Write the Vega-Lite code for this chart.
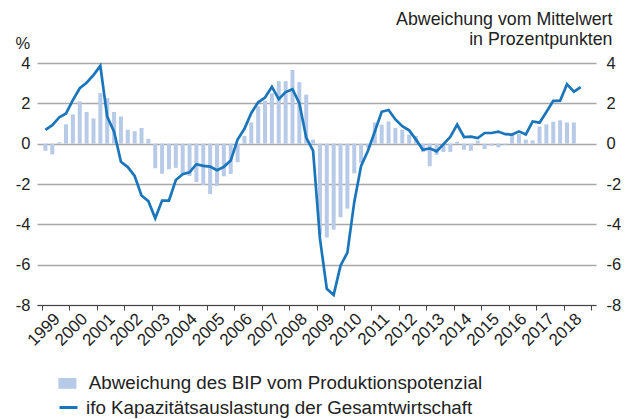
{
  "$schema": "https://vega.github.io/schema/vega-lite/v6.json",
  "width": 559,
  "height": 242,
  "autosize": {"type": "none"},
  "padding": {"left": 37, "top": 63, "right": 35, "bottom": 114},
  "config": {
    "view": {"stroke": null},
    "font": "Liberation Sans",
    "axis": {"labelFont": "Liberation Sans", "labelFontSize": 16, "labelColor": "#222", "titleFont": "Liberation Sans", "titleColor": "#222", "titleFontWeight": "normal"},
    "legend": {"labelFont": "Liberation Sans", "labelFontSize": 18.8, "labelColor": "#222", "labelLimit": 0}
  },
  "data": {
    "values": [
      {"t": 1999.125, "bip": -0.35, "ifo": 0.68},
      {"t": 1999.375, "bip": -0.53, "ifo": 0.92},
      {"t": 1999.625, "bip": 0.07, "ifo": 1.3},
      {"t": 1999.875, "bip": 0.96, "ifo": 1.5},
      {"t": 2000.125, "bip": 1.45, "ifo": 2.16},
      {"t": 2000.375, "bip": 2.1, "ifo": 2.75},
      {"t": 2000.625, "bip": 1.57, "ifo": 3.02},
      {"t": 2000.875, "bip": 1.25, "ifo": 3.4},
      {"t": 2001.125, "bip": 2.51, "ifo": 3.86},
      {"t": 2001.375, "bip": 2.26, "ifo": 1.34},
      {"t": 2001.625, "bip": 1.57, "ifo": 0.6},
      {"t": 2001.875, "bip": 1.35, "ifo": -0.9},
      {"t": 2002.125, "bip": 0.69, "ifo": -1.16},
      {"t": 2002.375, "bip": 0.62, "ifo": -1.6},
      {"t": 2002.625, "bip": 0.78, "ifo": -2.57},
      {"t": 2002.875, "bip": 0.24, "ifo": -2.85},
      {"t": 2003.125, "bip": -1.22, "ifo": -3.7},
      {"t": 2003.375, "bip": -1.49, "ifo": -2.82},
      {"t": 2003.625, "bip": -1.27, "ifo": -2.82},
      {"t": 2003.875, "bip": -1.2, "ifo": -1.8},
      {"t": 2004.125, "bip": -1.5, "ifo": -1.52},
      {"t": 2004.375, "bip": -1.6, "ifo": -1.42},
      {"t": 2004.625, "bip": -1.9, "ifo": -1.02},
      {"t": 2004.875, "bip": -2.05, "ifo": -1.1},
      {"t": 2005.125, "bip": -2.5, "ifo": -1.14},
      {"t": 2005.375, "bip": -2.1, "ifo": -1.32},
      {"t": 2005.625, "bip": -1.62, "ifo": -1.15},
      {"t": 2005.875, "bip": -1.5, "ifo": -0.84},
      {"t": 2006.125, "bip": -0.92, "ifo": 0.2},
      {"t": 2006.375, "bip": 0.38, "ifo": 0.74},
      {"t": 2006.625, "bip": 1.05, "ifo": 1.52},
      {"t": 2006.875, "bip": 1.85, "ifo": 2.05},
      {"t": 2007.125, "bip": 2.13, "ifo": 2.29},
      {"t": 2007.375, "bip": 2.5, "ifo": 2.82},
      {"t": 2007.625, "bip": 3.1, "ifo": 2.21},
      {"t": 2007.875, "bip": 3.1, "ifo": 2.56},
      {"t": 2008.125, "bip": 3.65, "ifo": 2.7},
      {"t": 2008.375, "bip": 3.05, "ifo": 2.01},
      {"t": 2008.625, "bip": 2.43, "ifo": 0.3},
      {"t": 2008.875, "bip": 0.2, "ifo": -0.35},
      {"t": 2009.125, "bip": -4.5, "ifo": -4.7},
      {"t": 2009.375, "bip": -4.65, "ifo": -7.2},
      {"t": 2009.625, "bip": -4.26, "ifo": -7.5},
      {"t": 2009.875, "bip": -3.65, "ifo": -6.05},
      {"t": 2010.125, "bip": -3.22, "ifo": -5.4},
      {"t": 2010.375, "bip": -1.47, "ifo": -2.9},
      {"t": 2010.625, "bip": -0.96, "ifo": -1.1},
      {"t": 2010.875, "bip": -0.2, "ifo": -0.35},
      {"t": 2011.125, "bip": 1.05, "ifo": 0.6},
      {"t": 2011.375, "bip": 0.94, "ifo": 1.58},
      {"t": 2011.625, "bip": 1.1, "ifo": 1.67},
      {"t": 2011.875, "bip": 0.78, "ifo": 1.2},
      {"t": 2012.125, "bip": 0.69, "ifo": 0.87},
      {"t": 2012.375, "bip": 0.45, "ifo": 0.66},
      {"t": 2012.625, "bip": 0.38, "ifo": 0.2},
      {"t": 2012.875, "bip": -0.42, "ifo": -0.3},
      {"t": 2013.125, "bip": -1.12, "ifo": -0.23},
      {"t": 2013.375, "bip": -0.55, "ifo": -0.38},
      {"t": 2013.625, "bip": -0.41, "ifo": -0.03},
      {"t": 2013.875, "bip": -0.41, "ifo": 0.34},
      {"t": 2014.125, "bip": 0.1, "ifo": 0.95},
      {"t": 2014.375, "bip": -0.3, "ifo": 0.33},
      {"t": 2014.625, "bip": -0.35, "ifo": 0.35},
      {"t": 2014.875, "bip": 0.15, "ifo": 0.28},
      {"t": 2015.125, "bip": -0.26, "ifo": 0.53},
      {"t": 2015.375, "bip": -0.1, "ifo": 0.53},
      {"t": 2015.625, "bip": -0.18, "ifo": 0.6},
      {"t": 2015.875, "bip": -0.05, "ifo": 0.47},
      {"t": 2016.125, "bip": 0.5, "ifo": 0.45},
      {"t": 2016.375, "bip": 0.48, "ifo": 0.61},
      {"t": 2016.625, "bip": 0.2, "ifo": 0.46},
      {"t": 2016.875, "bip": 0.16, "ifo": 1.1},
      {"t": 2017.125, "bip": 0.85, "ifo": 1.04},
      {"t": 2017.375, "bip": 0.96, "ifo": 1.57},
      {"t": 2017.625, "bip": 1.09, "ifo": 2.12},
      {"t": 2017.875, "bip": 1.16, "ifo": 2.13},
      {"t": 2018.125, "bip": 1.05, "ifo": 2.95},
      {"t": 2018.375, "bip": 1.05, "ifo": 2.58},
      {"t": 2018.625, "bip": null, "ifo": 2.8}
    ]
  },
  "encoding": {
    "x": {
      "field": "t",
      "type": "quantitative",
      "scale": {"domain": [1999, 2019], "nice": false, "zero": false},
      "axis": {
        "title": null,
        "values": [1999, 2000, 2001, 2002, 2003, 2004, 2005, 2006, 2007, 2008, 2009, 2010, 2011, 2012, 2013, 2014, 2015, 2016, 2017, 2018, 2019],
        "format": "d",
        "labelExpr": "datum.value > 2018 ? '' : datum.label",
        "labelAngle": -45,
        "labelAlign": "right",
        "labelBaseline": "middle",
        "labelFontSize": 17,
        "labelOffset": 15,
        "labelPadding": 6,
        "labelFlush": false,
        "labelOverlap": false,
        "labelBound": false,
        "grid": false,
        "domainColor": "#444",
        "tickColor": "#444",
        "tickSize": 5
      }
    }
  },
  "layer": [
    {
      "mark": {"type": "bar", "width": 4},
      "encoding": {
        "y": {
          "field": "bip",
          "type": "quantitative",
          "scale": {"domain": [-8, 4], "nice": false},
          "axis": {
            "orient": "left",
            "values": [-8, -6, -4, -2, 0, 2, 4],
            "labelExpr": "datum.value < 0 ? '-' + abs(datum.value) : '' + datum.value",
            "labelFontSize": 16.5,
            "grid": true,
            "gridColor": "#a8a8a8",
            "gridWidth": 1.3,
            "domain": false,
            "ticks": false,
            "labelPadding": 7,
            "title": "%",
            "titleAngle": 0,
            "titleAlign": "left",
            "titleBaseline": "alphabetic",
            "titleFontSize": 16.5,
            "titleX": -22,
            "titleY": -15
          }
        },
        "y2": {"datum": 0},
        "fill": {
          "datum": "Abweichung des BIP vom Produktionspotenzial",
          "scale": {"range": ["#b7cbe8"]},
          "legend": {
            "orient": "none",
            "legendX": 21,
            "legendY": 311,
            "title": null,
            "symbolType": "M-1,-0.6H1V0.6H-1Z",
            "symbolSize": 324,
            "symbolStrokeWidth": 0,
            "labelOffset": 12
          }
        }
      }
    },
    {
      "mark": {"type": "rule", "color": "#000", "strokeWidth": 2},
      "encoding": {"y": {"datum": 0, "axis": null}}
    },
    {
      "mark": {"type": "line", "strokeWidth": 2.7},
      "encoding": {
        "y": {
          "field": "ifo",
          "type": "quantitative",
          "axis": {
            "orient": "right",
            "values": [-8, -6, -4, -2, 0, 2, 4],
            "labelExpr": "datum.value < 0 ? '-' + abs(datum.value) : '' + datum.value",
            "labelFontSize": 16.5,
            "grid": false,
            "domain": false,
            "ticks": false,
            "labelAlign": "left",
            "labelPadding": 10,
            "title": ["Abweichung vom Mittelwert", "in Prozentpunkten"],
            "titleAngle": 0,
            "titleAlign": "right",
            "titleBaseline": "alphabetic",
            "titleFontSize": 17.8,
            "titleLineHeight": 20,
            "titleX": 16,
            "titleY": -39
          }
        },
        "stroke": {
          "datum": "ifo Kapazitätsauslastung der Gesamtwirtschaft",
          "scale": {"range": ["#1a75bb"]},
          "legend": {
            "orient": "none",
            "legendX": 21,
            "legendY": 334,
            "title": null,
            "symbolType": "stroke",
            "symbolSize": 324,
            "symbolStrokeWidth": 3,
            "labelOffset": 7
          }
        }
      }
    }
  ],
  "resolve": {"axis": {"y": "independent"}}
}
